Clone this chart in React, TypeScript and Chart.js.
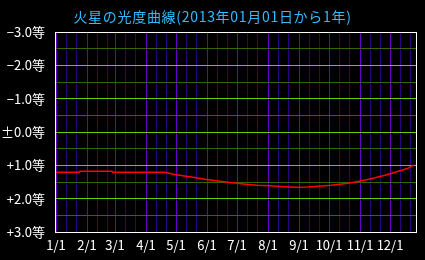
import React, { useEffect, useRef } from "react";
import { Chart, registerables } from "chart.js";
Chart.register(...registerables);

const TITLE = "火星の光度曲線(2013年01月01日から1年)";
const monthLabels = ["1/1", "2/1", "3/1", "4/1", "5/1", "6/1", "7/1", "8/1", "9/1", "10/1", "11/1", "12/1"];
const monthStartDays = [0, 31, 59, 90, 120, 151, 181, 212, 243, 273, 304, 334];
const magTickValues = [-3, -2, -1, 0, 1, 2, 3];
const magTickLabels = ["−3.0等", "−2.0等", "−1.0等", "±0.0等", "+1.0等", "+2.0等", "+3.0等"];

// days since 2013-01-01 and visual magnitude of Mars
const dayOffsets = [0, 23, 24, 56, 57, 109, 112, 118, 124, 130, 137, 143, 149, 156, 164, 172, 181, 190, 201, 214, 228, 240, 252, 262, 275, 284, 292, 298, 303, 308, 313, 317, 321, 325, 329, 332, 336, 339, 342, 346, 349, 352, 355, 358];
const magnitudes = [1.21, 1.21, 1.18, 1.18, 1.21, 1.21, 1.23, 1.27, 1.30, 1.33, 1.36, 1.39, 1.42, 1.45, 1.48, 1.51, 1.54, 1.57, 1.60, 1.61, 1.64, 1.66, 1.65, 1.63, 1.60, 1.57, 1.54, 1.51, 1.48, 1.45, 1.42, 1.39, 1.36, 1.33, 1.30, 1.27, 1.24, 1.21, 1.18, 1.15, 1.12, 1.09, 1.04, 0.99];

const FONT = "'Noto Sans CJK JP', 'Noto Sans', sans-serif";

export default function App() {
  const ref = useRef<HTMLCanvasElement | null>(null);
  useEffect(() => {
    document.body.style.background = "#000";
    const canvas = ref.current!;
    const gridDays: number[] = [];
    monthStartDays.forEach((d) => [0, 10, 20].forEach((o) => { if (d + o < 360) gridDays.push(d + o); }));
    const chart = new Chart(canvas, {
      type: "line",
      data: {
        datasets: [{
          data: dayOffsets.map((d, i) => ({ x: d, y: magnitudes[i] })),
          borderColor: "#ff0000",
          borderWidth: 1.5,
          pointRadius: 0,
          tension: 0,
          fill: false,
        }],
      },
      options: {
        animation: false,
        responsive: false,
        layout: { padding: { top: 32, right: 9, left: 0, bottom: 0 } },
        plugins: { legend: { display: false }, tooltip: { enabled: false }, title: { display: false } },
        scales: {
          x: {
            type: "linear",
            min: 0,
            max: 360,
            afterBuildTicks: (scale: any) => { scale.ticks = gridDays.map((v) => ({ value: v })); },
            afterFit: (scale: any) => { scale.height = 28; },
            border: { display: false },
            grid: {
              drawTicks: false,
              lineWidth: 1,
              color: (ctx: any) => (monthStartDays.includes(ctx.tick?.value) ? "#6600cc" : "#2e0080"),
            },
            ticks: {
              autoSkip: false,
              maxRotation: 0,
              padding: 5,
              color: "#ffffff",
              font: { family: FONT, size: 13 },
              callback: (v: any) => {
                const i = monthStartDays.indexOf(Number(v));
                return i >= 0 ? monthLabels[i] : "";
              },
            },
          },
          y: {
            type: "linear",
            reverse: true,
            min: -3,
            max: 3,
            afterFit: (scale: any) => { scale.width = 56; },
            border: { display: false },
            grid: {
              drawTicks: false,
              lineWidth: 1,
              color: (ctx: any) => (Number.isInteger(ctx.tick?.value) ? "#66cc00" : "#336600"),
            },
            ticks: {
              stepSize: 0.5,
              autoSkip: false,
              padding: 11,
              color: "#ffffff",
              font: { family: FONT, size: 13 },
              callback: (v: any) => {
                const i = magTickValues.indexOf(Number(v));
                return i >= 0 ? magTickLabels[i] : "";
              },
            },
          },
        },
      },
      plugins: [{
        id: "decor",
        beforeDraw: (c: any) => {
          const g = c.ctx;
          g.save();
          g.fillStyle = "#000";
          g.fillRect(0, 0, c.width, c.height);
          g.restore();
        },
        afterDraw: (c: any) => {
          const g = c.ctx;
          const a = c.chartArea;
          g.save();
          g.strokeStyle = "#ffffff";
          g.lineWidth = 1;
          g.strokeRect(Math.round(a.left) - 0.5, Math.round(a.top) + 0.5, Math.round(a.right - a.left) + 1, Math.round(a.bottom - a.top));
          g.fillStyle = "#33bbff";
          g.font = `14px ${FONT}`;
          try { (g as any).letterSpacing = "0.7px"; } catch (e) {}
          g.textAlign = "center";
          g.textBaseline = "middle";
          g.fillText(TITLE, 212.5, 16.5);
          g.restore();
        },
      }],
    } as any);
    return () => chart.destroy();
  }, []);
  return (
    <div style={{ position: "absolute", left: 0, top: 0, width: 425, height: 260, background: "#000" }}>
      <canvas ref={ref} width={425} height={260} />
    </div>
  );
}
